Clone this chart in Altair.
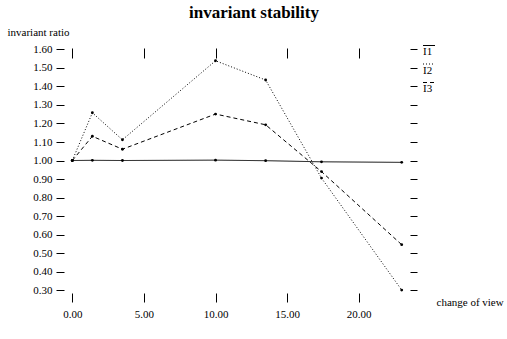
import altair as alt
import pandas as pd

# change of view (x) and the ratio of each invariant
view = [0.0, 1.4, 3.5, 10.0, 13.5, 17.4, 23.0]
i1 = [1.000, 1.001, 1.000, 1.002, 0.999, 0.993, 0.990]
i2 = [1.000, 1.258, 1.112, 1.539, 1.435, 0.905, 0.300]
i3 = [1.000, 1.131, 1.061, 1.251, 1.193, 0.940, 0.545]
names = ["I1", "I2", "I3"]
x_ticks = [0, 5, 10, 15, 20]
y_ticks = [0.3, 0.4, 0.5, 0.6, 0.7, 0.8, 0.9, 1.0, 1.1, 1.2, 1.3, 1.4, 1.5, 1.6]

rows = []
for name, vals in zip(names, [i1, i2, i3]):
    for v, r in zip(view, vals):
        rows.append({"view": v, "ratio": r, "series": name})
df = pd.DataFrame(rows)

FONT = "Liberation Serif"
W, H = 346, 245
DASHES = [[1, 0], [1, 2], [4, 3]]

x_scale = alt.Scale(domain=[-0.58, 23.58], nice=False, zero=False)
y_scale = alt.Scale(domain=[0.284, 1.608], nice=False, zero=False)
dash_scale = alt.Scale(domain=names, range=DASHES)

common = dict(domain=False, grid=False, tickColor="black", tickWidth=1,
              labelFont=FONT, labelFontSize=11, labelColor="black",
              titleFont=FONT, titleFontSize=11, titleFontWeight="normal",
              titleColor="black")

x_bottom = alt.X("view:Q", scale=x_scale, axis=alt.Axis(
    orient="bottom", values=x_ticks, format=".2f", tickSize=9, labelPadding=6,
    title="change of view", titleAngle=0, titleAlign="left",
    titleBaseline="middle", titleX=372, titleY=9, **common))
y_left = alt.Y("ratio:Q", scale=y_scale, axis=alt.Axis(
    orient="left", values=y_ticks, format=".2f", tickSize=8, labelPadding=4,
    title="invariant ratio", titleAngle=0, titleAlign="left",
    titleBaseline="middle", titleX=-57, titleY=-16, **common))

x_top = alt.X("view:Q", scale=x_scale, axis=alt.Axis(
    orient="top", values=x_ticks, labels=False, tickSize=10, offset=-10,
    title=None, **common))
y_right = alt.Y("ratio:Q", scale=y_scale, axis=alt.Axis(
    orient="right", values=y_ticks, labels=False, tickSize=7,
    title=None, **common))

base = alt.Chart(df)

lines = base.mark_line(color="black", strokeWidth=1).encode(
    x=x_bottom, y=y_left,
    strokeDash=alt.StrokeDash("series:N", scale=dash_scale, legend=None),
    detail="series:N",
)

# tick marks along the top and right edges
frame_ticks = base.mark_point(opacity=0).encode(x=x_top, y=y_right)

points = base.mark_circle(size=8, color="black", opacity=1).encode(
    x=alt.X("view:Q", scale=x_scale, axis=None),
    y=alt.Y("ratio:Q", scale=y_scale, axis=None),
)

# key on the right: label with its line style drawn above it
key_layers = []
one = alt.Data(values=[{}])
for k, (name, dash) in enumerate(zip(names, DASHES)):
    cy = 4 + 18.5 * k
    key_layers.append(
        alt.Chart(one).mark_text(text=name, font=FONT, fontSize=11, color="black",
                                 align="left", baseline="middle")
        .encode(x=alt.value(359), y=alt.value(cy))
    )
    key_layers.append(
        alt.Chart(one).mark_rule(color="black", strokeWidth=1, strokeDash=dash)
        .encode(x=alt.value(359), x2=alt.value(371), y=alt.value(cy - 6.5))
    )

chart = (
    alt.layer(lines, frame_ticks, points, *key_layers)
    .resolve_axis(x="independent", y="independent")
    .properties(
        width=W, height=H,
        padding={"left": 64, "top": 48, "right": 97, "bottom": 46},
        autosize=alt.AutoSizeParams(type="none"),
        background="white",
        title=alt.TitleParams("invariant stability", font=FONT, fontSize=17,
                              fontWeight="bold", color="black", anchor="middle",
                              frame="group", dx=17, offset=4),
    )
    .configure_view(stroke=None)
)

chart.save("out.html", embed_options={"renderer": "svg", "actions": False})
